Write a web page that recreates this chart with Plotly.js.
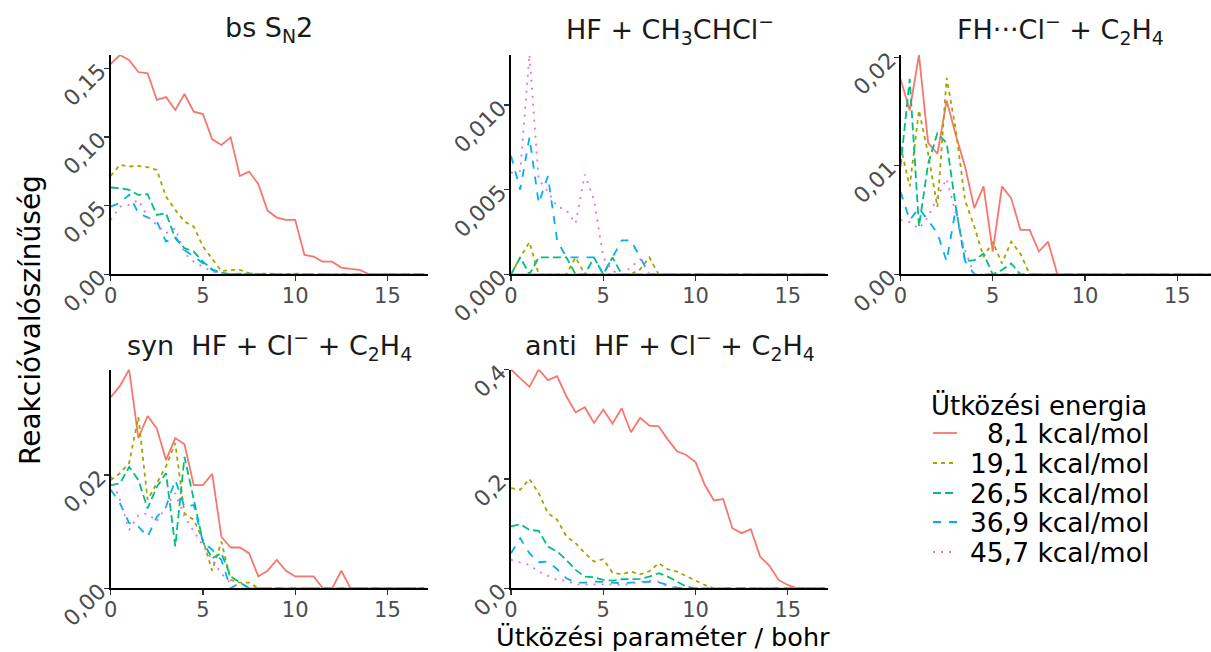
<!DOCTYPE html>
<html>
<head>
<meta charset="utf-8">
<script src="https://cdn.plot.ly/plotly-3.0.1.min.js"></script>
<style>html,body{margin:0;padding:0;background:#fff;}#chart{width:1211px;height:652px;}</style>
</head>
<body>
<div id="chart"></div>
<script>
// impact parameter grid (bohr)
const impactParam = [0,0.5,1,1.5,2,2.5,3,3.5,4,4.5,5,5.5,6,6.5,7,7.5,8,8.5,9,9.5,10,10.5,11,11.5,12,12.5,13,13.5,14,14.5,15,15.5,16,16.5,17];

const legendTitle = "Ütközési energia";
const energyLabels = ["8,1 kcal/mol","19,1 kcal/mol","26,5 kcal/mol","36,9 kcal/mol","45,7 kcal/mol"];

const panelTitles = [
  "bs S<sub>N</sub>2",
  "HF + CH<sub>3</sub>CHCl<sup>\u2212</sup>",
  "FH\u00b7\u00b7\u00b7Cl<sup>\u2212</sup> + C<sub>2</sub>H<sub>4</sub>",
  "syn\u00a0 HF + Cl<sup>\u2212</sup> + C<sub>2</sub>H<sub>4</sub>",
  "anti\u00a0 HF + Cl<sup>\u2212</sup> + C<sub>2</sub>H<sub>4</sub>"
];

// Panel 1: bs SN2
const bsSN2_81  = [0.1532,0.1597,0.156,0.1473,0.1464,0.127,0.129,0.1197,0.1313,0.1184,0.1167,0.0983,0.0942,0.0998,0.0716,0.0748,0.0658,0.0464,0.0413,0.0396,0.0396,0.0141,0.0129,0.0092,0.0092,0.0049,0.0039,0.0032,0,0,0,0,0,0,0];
const bsSN2_191 = [0.0717,0.0797,0.0785,0.079,0.078,0.076,0.0566,0.0469,0.0384,0.0347,0.0202,0.0117,0.0024,0.0032,0.0032,0.0007,0.0003,0.0005,0,0,0.0005,0,0,0,0,0,0,0,0,0,0,0,0,0,0];
const bsSN2_265 = [0.0632,0.0627,0.0615,0.0578,0.0583,0.0432,0.0445,0.0262,0.019,0.0165,0.0092,0.0036,0.0012,0,0.0005,0.0005,0.0007,0.0003,0,0,0,0,0,0,0,0,0,0,0,0,0,0,0,0,0];
const bsSN2_369 = [0.0493,0.052,0.058,0.0445,0.0415,0.0384,0.0238,0.0274,0.0177,0.0129,0.0075,0.0032,0.0005,0,0,0,0,0,0,0,0,0,0,0,0,0,0,0,0,0,0,0,0,0,0];
const bsSN2_457 = [0.0396,0.0493,0.0505,0.0541,0.042,0.036,0.0299,0.0335,0.0153,0.0092,0.0056,0.002,0.0005,0,0,0,0,0,0,0,0,0,0,0,0,0,0,0,0,0,0,0,0,0,0];

// Panel 2: HF + CH3CHCl-
const hfCH3_81  = [0,0,0,0,0,0,0,0,0,0,0,0,0,0,0,0,0,0,0,0,0,0,0,0,0,0,0,0,0,0,0,0,0,0,0];
const hfCH3_191 = [0,0.001,0.0019,0,0,0,0,0.001,0,0,0,0,0,0,0.0003,0.001,0,0,0,0,0,0,0,0,0,0,0,0,0,0,0,0,0,0,0];
const hfCH3_265 = [0,0.001,0,0.001,0.001,0.001,0.001,0,0,0.001,0,0.001,0,0,0,0,0,0,0,0,0,0,0,0,0,0,0,0,0,0,0,0,0,0,0];
const hfCH3_369 = [0.007,0.005,0.0081,0.0042,0.0058,0.002,0.001,0.001,0.001,0.001,0,0.001,0.002,0.002,0.001,0,0,0,0,0,0,0,0,0,0,0,0,0,0,0,0,0,0,0,0];
const hfCH3_457 = [0.006,0.0061,0.013,0.0056,0.0049,0.004,0.0038,0.003,0.0059,0.0044,0.001,0.0002,0,0.0004,0.0009,0,0,0,0,0,0,0,0,0,0,0,0,0,0,0,0,0,0,0,0];

// Panel 3: FH...Cl- + C2H4
const fhCl_81  = [0.018,0.0151,0.0202,0.0121,0.0111,0.016,0.0128,0.0099,0.0061,0.0081,0.0021,0.0081,0.007,0.0041,0.0041,0.0021,0.003,0,0,0,0,0,0,0,0,0,0,0,0,0,0,0,0,0,0];
const fhCl_191 = [0.0118,0.0081,0.0151,0.0111,0.0062,0.0181,0.0133,0.0068,0.0044,0.0016,0.003,0.001,0.003,0.0019,0,0,0,0,0,0,0,0,0,0,0,0,0,0,0,0,0,0,0,0,0];
const fhCl_265 = [0.0099,0.018,0.0044,0.0102,0.013,0.0121,0.0062,0.0012,0.0013,0.0019,0,0.0004,0.001,0,0,0,0,0,0,0,0,0,0,0,0,0,0,0,0,0,0,0,0,0,0];
const fhCl_369 = [0.0076,0.005,0.0061,0.005,0.0038,0.0012,0.0061,0.0012,0,0,0,0,0,0,0,0,0,0,0,0,0,0,0,0,0,0,0,0,0,0,0,0,0,0,0];
const fhCl_457 = [0.005,0.0048,0.0042,0.0053,0.0071,0.0088,0.0056,0.0022,0,0,0,0,0,0,0,0,0,0,0,0,0,0,0,0,0,0,0,0,0,0,0,0,0,0,0];

// Panel 4: syn HF + Cl- + C2H4
const syn_81  = [0.0337,0.0357,0.0386,0.0265,0.0304,0.0282,0.0226,0.0265,0.0254,0.0182,0.0182,0.0202,0.0091,0.0072,0.0072,0.0062,0.0021,0.0031,0.005,0.0031,0.0021,0.0021,0.0021,0,0,0.0031,0,0,0,0,0,0,0,0,0];
const syn_191 = [0.0191,0.0203,0.0221,0.0302,0.0156,0.0185,0.0215,0.0256,0.0132,0.0121,0.0085,0.0031,0.0082,0.0015,0.001,0.001,0,0,0,0,0,0,0,0,0,0,0,0,0,0,0,0,0,0,0];
const syn_265 = [0.0182,0.0185,0.0214,0.0191,0.0141,0.0179,0.0203,0.0074,0.0232,0.0156,0.0082,0.0053,0.0062,0.0021,0.001,0,0,0,0,0,0,0,0,0,0,0,0,0,0,0,0,0,0,0,0];
const syn_369 = [0.0174,0.015,0.0115,0.0109,0.0091,0.0126,0.0144,0.0191,0.0144,0.0147,0.0082,0.0068,0.005,0,0.001,0,0,0,0,0,0,0,0,0,0,0,0,0,0,0,0,0,0,0,0];
const syn_457 = [0.0197,0.0156,0.0103,0.0129,0.0132,0.0118,0.0144,0.0168,0.0126,0.01,0.0074,0.005,0.0026,0.0009,0,0,0,0,0,0,0,0,0,0,0,0,0,0,0,0,0,0,0,0,0];

// Panel 5: anti HF + Cl- + C2H4
const anti_81  = [0.4,0.3847,0.3682,0.4,0.3805,0.3878,0.3511,0.3218,0.331,0.3023,0.3267,0.3011,0.3292,0.2852,0.3115,0.2974,0.2962,0.2718,0.2504,0.2437,0.2308,0.1893,0.1606,0.1631,0.1099,0.1008,0.1081,0.058,0.0415,0.0153,0.0061,0,0,0,0];
const anti_191 = [0.1832,0.1802,0.1997,0.1741,0.1374,0.1252,0.0947,0.0824,0.0641,0.0489,0.0531,0.0287,0.0256,0.0305,0.0256,0.0311,0.0458,0.0348,0.0305,0.0226,0.0153,0.0061,0,0,0,0,0,0,0,0,0,0,0,0,0];
const anti_265 = [0.113,0.1172,0.1069,0.105,0.0763,0.0672,0.0519,0.0336,0.0214,0.0202,0.0153,0.014,0.0165,0.0165,0.0171,0.0214,0.0275,0.0214,0.0122,0.0031,0,0,0,0,0,0,0,0,0,0,0,0,0,0,0];
const anti_369 = [0.0641,0.0916,0.0641,0.0476,0.0489,0.0348,0.0183,0.0104,0.0104,0.0122,0.0116,0.0104,0.0092,0.0104,0.0116,0.0122,0.011,0.0061,0.0012,0,0,0,0,0,0,0,0,0,0,0,0,0,0,0,0];
const anti_457 = [0.0519,0.047,0.0428,0.0305,0.0226,0.0153,0.014,0.0073,0.0073,0.0073,0.0079,0.0073,0.0061,0.0092,0.0122,0.014,0.0122,0.0031,0,0,0,0,0,0,0,0,0,0,0,0,0,0,0,0,0];

const yTickVals = [[0,0.05,0.10,0.15],[0,0.005,0.010],[0,0.01,0.02],[0,0.02],[0,0.2,0.4]];
const yTickFormats = [".2f",".3f",".2f",".2f",".1f"];
const yMax = [0.1597,0.01296,0.0202,0.0386,0.4];
const xTickVals = [0,5,10,15];

const panelData = [
  [bsSN2_81,bsSN2_191,bsSN2_265,bsSN2_369,bsSN2_457],
  [hfCH3_81,hfCH3_191,hfCH3_265,hfCH3_369,hfCH3_457],
  [fhCl_81,fhCl_191,fhCl_265,fhCl_369,fhCl_457],
  [syn_81,syn_191,syn_265,syn_369,syn_457],
  [anti_81,anti_191,anti_265,anti_369,anti_457]
];

const colors = ["#F8766D","#A3A500","#00BF7D","#00B0F6","#E76BF3"];
const dashes = ["solid","4px,4px","8px,4px","8px,8px","2px,6px"];

const W = 1211, H = 652;
const FONT = "DejaVu Sans";
// panel boxes in pixels: [left, right, top, bottom]
const boxes = [
  [110.7, 428, 55, 274.3],
  [511, 828, 55, 274.3],
  [900.5, 1211, 55, 274.3],
  [110.7, 428, 369.5, 588.3],
  [511, 828, 369.5, 588.3]
];
const pxPerUnit = 18.45;

const traces = [];
panelData.forEach((series, p) => {
  series.forEach((vals, s) => {
    traces.push({
      type: "scatter", mode: "lines",
      x: impactParam, y: vals,
      xaxis: "x" + (p + 1), yaxis: "y" + (p + 1),
      name: energyLabels[s], showlegend: false,
      line: {color: colors[s], dash: dashes[s], width: 1.8},
      hoverinfo: "skip"
    });
  });
});

const layout = {
  width: W, height: H,
  margin: {l: 0, r: 0, t: 0, b: 0},
  paper_bgcolor: "#fff", plot_bgcolor: "#fff",
  separators: ", ",
  font: {family: FONT, color: "#000"},
  showlegend: false,
  annotations: [],
  shapes: []
};

boxes.forEach((b, p) => {
  const i = p + 1;
  const xr = (b[1] - b[0]) / pxPerUnit;
  layout["xaxis" + i] = {
    domain: [b[0] / W, b[1] / W], anchor: "y" + i,
    range: [0, xr], tickvals: xTickVals, ticks: "outside", ticklen: 5, tickwidth: 1.2,
    tickcolor: "#333", showline: true, linecolor: "#000", linewidth: 1.6,
    showgrid: false, zeroline: false, automargin: false, ticklabelstandoff: -3,
    tickfont: {size: 21, color: "#4D4D4D", family: FONT}
  };
  layout["yaxis" + i] = {
    domain: [1 - b[3] / H, 1 - b[2] / H], anchor: "x" + i,
    range: [0, yMax[p]], tickvals: yTickVals[p], tickformat: yTickFormats[p],
    tickangle: -45, ticks: "outside", ticklen: 5, tickwidth: 1.2, tickcolor: "#333",
    showline: true, linecolor: "#000", linewidth: 1.6,
    showgrid: false, zeroline: false, automargin: false,
    tickfont: {size: 22, color: "#4D4D4D", family: FONT}
  };
  const cx = p === 2 ? 1060 : (b[0] + b[1]) / 2;
  const cy = p < 3 ? 30 : 345;
  layout.annotations.push({
    text: panelTitles[p], xref: "paper", yref: "paper",
    x: cx / W, y: 1 - cy / H, xanchor: "center", yanchor: "middle",
    showarrow: false, font: {size: 27, family: FONT, color: "#1A1A1A"}
  });
});

layout.annotations.push({
  text: "Reakcióvalószínűség", xref: "paper", yref: "paper",
  x: 30 / W, y: 1 - 320 / H, xanchor: "center", yanchor: "middle",
  textangle: -90, showarrow: false, font: {size: 28, family: FONT, color: "#000"}
});
layout.annotations.push({
  text: "Ütközési paraméter / bohr", xref: "paper", yref: "paper",
  x: 663 / W, y: 1 - 636.5 / H, xanchor: "center", yanchor: "middle",
  showarrow: false, font: {size: 25.5, family: FONT, color: "#000"}
});

// legend (drawn with annotations + line shapes)
layout.annotations.push({
  text: legendTitle, xref: "paper", yref: "paper",
  x: 929 / W, y: 1 - 405 / H, xanchor: "left", yanchor: "middle",
  showarrow: false, font: {size: 26, family: FONT, color: "#000"}
});
const legendRowY = [433, 463, 493, 522, 552];
energyLabels.forEach((lab, s) => {
  const yc = 1 - legendRowY[s] / H;
  layout.annotations.push({
    text: lab, xref: "paper", yref: "paper",
    x: 1151 / W, y: yc, xanchor: "right", yanchor: "middle",
    showarrow: false, font: {size: 26.5, family: FONT, color: "#000"}
  });
  layout.shapes.push({
    type: "line", xref: "paper", yref: "paper",
    x0: 933 / W, x1: 957 / W, y0: yc, y1: yc,
    line: {color: colors[s], dash: dashes[s], width: 1.8}
  });
});

Plotly.newPlot("chart", traces, layout, {staticPlot: true, displayModeBar: false});
</script>
</body>
</html>
